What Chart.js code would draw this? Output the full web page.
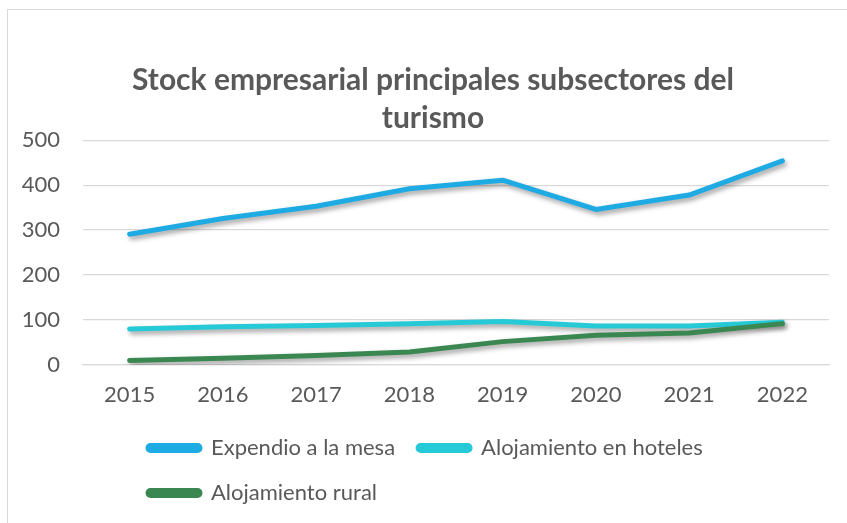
<!DOCTYPE html>
<html lang="es">
<head>
<meta charset="utf-8">
<title>Stock empresarial principales subsectores del turismo</title>
<script src="https://cdn.jsdelivr.net/npm/chart.js@4/dist/chart.umd.min.js"></script>
<style>
  html, body { margin: 0; padding: 0; background: #fff; overflow: hidden; }
  #wrap { position: relative; width: 847px; height: 523px; }
  #frame { position: absolute; left: 7px; top: 9px; width: 1000px; height: 1000px; border: 1px solid #d9d9d9; }
  canvas { position: absolute; left: 0; top: 0; }
</style>
</head>
<body>
<div id="wrap">
  <div id="frame"></div>
  <canvas id="chart"></canvas>
</div>
<script>
// data
const years = ['2015', '2016', '2017', '2018', '2019', '2020', '2021', '2022'];
const expendio = [291, 326, 353, 392, 411, 346, 378, 454];
const hoteles  = [80, 85, 88, 92, 97, 87, 87, 95];
const rural    = [10, 15, 21, 29, 52, 66, 71, 92];
const yTicks   = [0, 100, 200, 300, 400, 500];

const GREY = '#595959';
const FONT = 'Lato, "Open Sans", sans-serif';

// excel-like soft shadow under the lines
const lineShadow = {
  id: 'lineShadow',
  beforeDatasetsDraw(chart) {
    const c = chart.ctx;
    c.save();
    c.shadowColor = 'rgba(0,0,0,0.38)';
    c.shadowBlur = 5;
    c.shadowOffsetX = 2;
    c.shadowOffsetY = 3;
  },
  afterDatasetsDraw(chart) { chart.ctx.restore(); },
};

// the original frame is wider than the picture: nudge title centre,
// and keep legend rows left aligned a little inside the plot
const frameTweaks = {
  id: 'frameTweaks',
  afterLayout(chart) {
    chart.titleBlock.right += 37;
    chart.legend.left = chart.chartArea.left + 42;
  },
};

function line(label, data, color, order) {
  return {
    label, data, order,
    borderColor: color,
    backgroundColor: color,
    borderWidth: 5,
    borderCapStyle: 'round',
    borderJoinStyle: 'round',
    pointRadius: 0,
    pointHoverRadius: 0,
    tension: 0,
    fill: false,
  };
}

new Chart(document.getElementById('chart'), {
  type: 'line',
  data: {
    labels: years,
    datasets: [
      line('Expendio a la mesa', expendio, '#1eaae2', 2),
      line('Alojamiento en hoteles', hoteles, '#26cad6', 1),
      line('Alojamiento rural', rural, '#3b8752', 0),
    ],
  },
  options: {
    responsive: true,
    maintainAspectRatio: false,
    animation: false,
    layout: { padding: { top: 9, left: 0, right: 18, bottom: 9 } },
    plugins: {
      title: {
        display: true,
        text: ['Stock empresarial principales subsectores del', 'turismo'],
        color: GREY,
        font: { family: FONT, size: 30, weight: 'bold', lineHeight: 1.27 },
        padding: { top: 52, bottom: 3 },
      },
      legend: {
        position: 'bottom',
        align: 'start',
        labels: {
          color: GREY,
          font: { family: FONT, size: 22 },
          boxWidth: 52,
          boxHeight: 5,
          useBorderRadius: true,
          borderRadius: 2.5,
          padding: 23,
          sort: (a, b) => a.datasetIndex - b.datasetIndex,
        },
      },
      tooltip: { enabled: false },
    },
    scales: {
      x: {
        offset: true,
        grid: { display: false, drawTicks: false },
        border: { display: true, color: '#d9d9d9', width: 1.3 },
        ticks: { color: GREY, font: { family: FONT, size: 22 }, padding: 17 },
        afterFit: s => { s.height = 49; },
      },
      y: {
        min: 0,
        max: 500,
        afterBuildTicks: s => { s.ticks = yTicks.map(v => ({ value: v })); },
        grid: { color: '#d9d9d9', lineWidth: 1.3, drawTicks: false },
        border: { display: false },
        ticks: { color: GREY, font: { family: FONT, size: 22 }, padding: 23 },
        afterFit: s => { s.width = 83; },
      },
    },
  },
  plugins: [lineShadow, frameTweaks],
});
</script>
</body>
</html>
